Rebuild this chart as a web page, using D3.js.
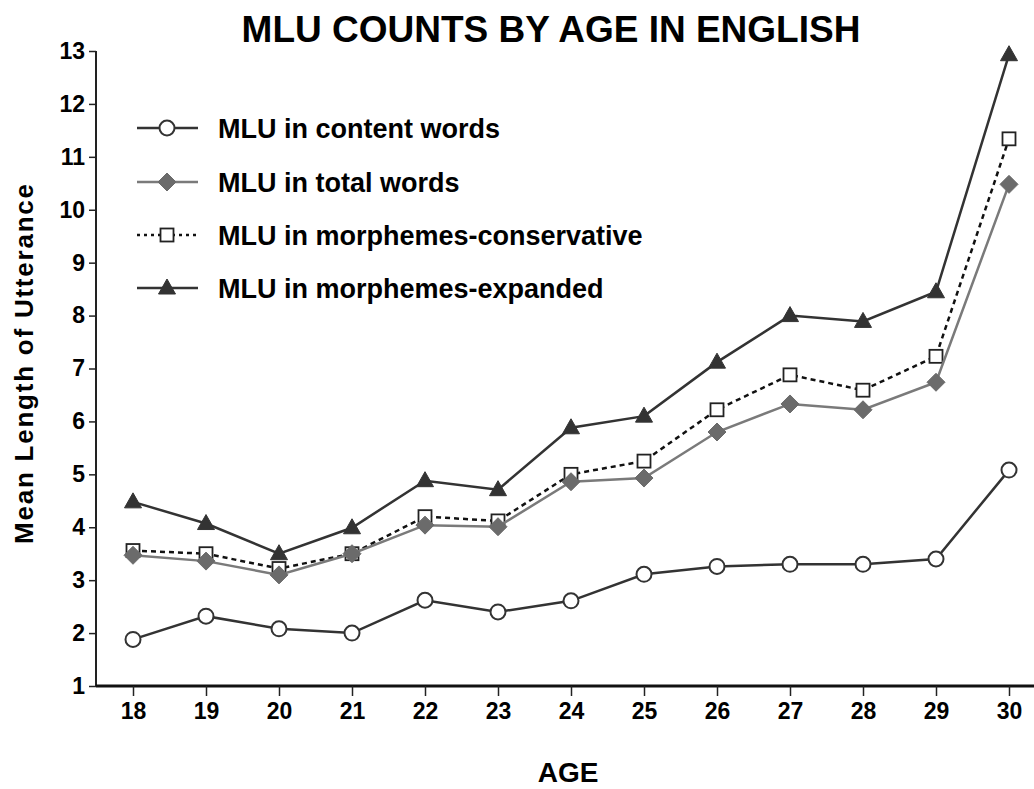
<!DOCTYPE html>
<meta charset="utf-8">
<style>
  body { margin: 0; background: #fff; }
  text { font-family: "Liberation Sans", Arial, sans-serif; font-weight: bold; fill: #000; }
</style>
<body>
<script src="https://d3js.org/d3.v7.min.js"></script>
<script>

// data
var ages = [18, 19, 20, 21, 22, 23, 24, 25, 26, 27, 28, 29, 30];
var contentWords  = [1.88, 2.32, 2.08, 2.00, 2.62, 2.40, 2.61, 3.11, 3.26, 3.30, 3.30, 3.40, 5.08];
var totalWords    = [3.47, 3.36, 3.10, 3.50, 4.04, 4.01, 4.86, 4.93, 5.80, 6.33, 6.22, 6.74, 10.48];
var morphConserv  = [3.56, 3.50, 3.22, 3.50, 4.20, 4.12, 5.00, 5.25, 6.22, 6.88, 6.59, 7.23, 11.34];
var morphExpanded = [4.48, 4.07, 3.50, 3.99, 4.88, 4.71, 5.88, 6.10, 7.12, 8.00, 7.89, 8.45, 12.93];
var yTicks = [1, 2, 3, 4, 5, 6, 7, 8, 9, 10, 11, 12, 13];

var seriesNames = ["MLU in content words", "MLU in total words",
                   "MLU in morphemes-conservative", "MLU in morphemes-expanded"];

var width = 1034, height = 789;

var svg = d3.select("body").append("svg")
    .attr("width", width)
    .attr("height", height);

var x = d3.scaleLinear().domain([18, 30]).range([133, 1009]);
var y = d3.scaleLinear().domain([1, 13]).range([686, 51]);

// title
svg.append("text")
    .attr("x", 551).attr("y", 42)
    .attr("text-anchor", "middle")
    .style("font-size", "37px")
    .text("MLU COUNTS BY AGE IN ENGLISH");

// y axis
var yAxis = svg.append("g")
    .attr("transform", "translate(96,0)")
    .call(d3.axisLeft(y).tickValues(yTicks).tickSize(7).tickPadding(4).tickFormat(d3.format("d")));
yAxis.select(".domain").attr("d", "M0," + y(13) + "V" + y(1)).attr("stroke", "#222").attr("stroke-width", 2);
yAxis.selectAll(".tick line").attr("stroke", "#222").attr("stroke-width", 1.5);
yAxis.selectAll(".tick text").style("font-size", "23px").style("font-family", "Liberation Sans, Arial, sans-serif").style("font-weight", "bold");

// x axis
var xAxis = svg.append("g")
    .attr("transform", "translate(0," + y(1) + ")")
    .call(d3.axisBottom(x).tickValues(ages).tickSize(10).tickPadding(7).tickFormat(d3.format("d")));
xAxis.select(".domain").attr("d", "M96,0H1034").attr("stroke", "#111").attr("stroke-width", 3);
xAxis.selectAll(".tick line").attr("stroke", "#222").attr("stroke-width", 1.5);
xAxis.selectAll(".tick text").style("font-size", "23px").style("font-family", "Liberation Sans, Arial, sans-serif").style("font-weight", "bold");

// axis titles
svg.append("text")
    .attr("transform", "translate(33,364) rotate(-90)")
    .attr("text-anchor", "middle")
    .style("font-size", "26px")
    .attr("textLength", 360)
    .text("Mean Length of Utterance");

svg.append("text")
    .attr("x", 568).attr("y", 782)
    .attr("text-anchor", "middle")
    .style("font-size", "28px")
    .text("AGE");

// series styles
var styles = [
  {values: contentWords,  line: "#333", width: 2.5, dash: null,  shape: "circle",   fill: "#fff", stroke: "#333"},
  {values: totalWords,    line: "#7a7a7a", width: 2.5, dash: null, shape: "diamond", fill: "#6b6b6b", stroke: "#6b6b6b"},
  {values: morphConserv,  line: "#111", width: 2.5, dash: "5,4", shape: "square",   fill: "#fff", stroke: "#222"},
  {values: morphExpanded, line: "#333", width: 2.5, dash: null,  shape: "triangle", fill: "#333", stroke: "#333"}
];

function marker(g, s, cx, cy) {
  if (s.shape === "circle") {
    g.append("circle").attr("cx", cx).attr("cy", cy).attr("r", 7.5)
      .attr("fill", s.fill).attr("stroke", s.stroke).attr("stroke-width", 2);
  } else if (s.shape === "diamond") {
    g.append("path").attr("d", "M" + cx + "," + (cy - 9) + "L" + (cx + 9) + "," + cy + "L" + cx + "," + (cy + 9) + "L" + (cx - 9) + "," + cy + "Z")
      .attr("fill", s.fill).attr("stroke", s.stroke).attr("stroke-width", 1);
  } else if (s.shape === "square") {
    g.append("rect").attr("x", cx - 6.5).attr("y", cy - 6.5).attr("width", 13).attr("height", 13)
      .attr("fill", s.fill).attr("stroke", s.stroke).attr("stroke-width", 1.8);
  } else {
    g.append("path").attr("d", "M" + cx + "," + (cy - 9) + "L" + (cx + 8.5) + "," + (cy + 6) + "L" + (cx - 8.5) + "," + (cy + 6) + "Z")
      .attr("fill", s.fill).attr("stroke", s.stroke).attr("stroke-width", 1);
  }
}

var line = d3.line()
    .x(function(d, i) { return x(ages[i]); })
    .y(function(d) { return y(d); });

// draw order so the overlaps look like the original
[2, 1, 3, 0].forEach(function(k) {
  var s = styles[k];
  var g = svg.append("g");
  g.append("path")
      .attr("d", line(s.values))
      .attr("fill", "none")
      .attr("stroke", s.line)
      .attr("stroke-width", s.width)
      .attr("stroke-dasharray", s.dash);
  s.values.forEach(function(v, i) { marker(g, s, x(ages[i]), y(v)); });
});

// legend
var legendY = [128, 182, 235, 288];
styles.forEach(function(s, i) {
  var g = svg.append("g");
  g.append("line")
      .attr("x1", 137).attr("x2", 198)
      .attr("y1", legendY[i]).attr("y2", legendY[i])
      .attr("stroke", s.line).attr("stroke-width", s.width)
      .attr("stroke-dasharray", s.dash ? "3,4" : null);
  marker(g, s, 167, legendY[i]);
  g.append("text")
      .attr("x", 218).attr("y", legendY[i] + 10)
      .style("font-size", "27px")
      .text(seriesNames[i]);
});

</script>
</body>
